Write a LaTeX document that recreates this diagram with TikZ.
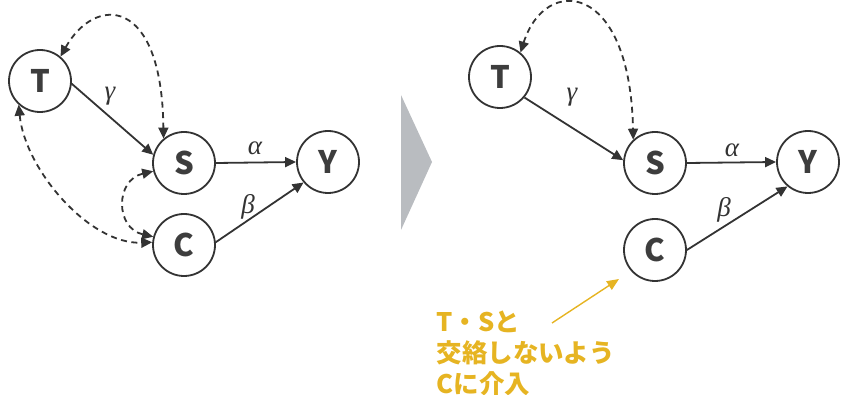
\documentclass[tikz,border=0pt]{standalone}
\usepackage{fontspec}
\newfontfamily\cjk{Noto Sans CJK JP}
\newfontfamily\grk{Liberation Serif}
\usetikzlibrary{arrows.meta}
\definecolor{ink}{HTML}{333333}
\definecolor{gold}{HTML}{E6B422}
\definecolor{tri}{HTML}{B9BCC0}
\tikzset{
  var/.style={circle, draw=ink, line width=1.8pt, minimum size=62pt, inner sep=0pt, font=\cjk\bfseries\fontsize{31}{34}\selectfont, text=ink!95},
  con/.style={draw=ink, line width=1.8pt, -{Triangle[length=11pt,width=10pt]}},
  dcon/.style={draw=ink, line width=1.8pt, dash pattern=on 6pt off 4.5pt, {Triangle[length=11pt,width=10pt]}-{Triangle[length=11pt,width=10pt]}},
  glab/.style={font=\grk\itshape\fontsize{27}{30}\selectfont, text=ink},
  note/.style={font=\cjk\bfseries\fontsize{25.5}{31}\selectfont, text=gold, align=left}
}
\begin{document}
\begin{tikzpicture}[x=1pt,y=-1pt]
\useasboundingbox (0,0) rectangle (841,395);
% left
\node[var] (T1) at (40,81) {T};
\node[var] (S1) at (184,163) {S};
\node[var] (Y1) at (328,162) {Y};
\node[var] (C1) at (184,245) {C};
\draw[con] (T1.-5) -- (S1.165);
\draw[con] (S1.east) -- (Y1.west);
\draw[con] (C1.5) -- (Y1.220);
\node[glab] (g1) at (110,96) {γ};
\node[glab] (a1) at (255,148) {α};
\node[glab] (b1) at (248,207) {β};
\draw[dcon] (T1.50) .. controls (95,-5) and (162,-5) .. (S1.130);
\draw[dcon] (T1.228) .. controls (25,170) and (90,245) .. (C1.175);
\draw[dcon] (S1.195) .. controls (115,180) and (115,228) .. (C1.165);
% triangle
\fill[tri] (401,95) -- (432,162) -- (401,230) -- cycle;
% right
\node[var] (T2) at (500,77) {T};
\node[var] (S2) at (655,163) {S};
\node[var] (Y2) at (808,162) {Y};
\node[var] (C2) at (655,250) {C};
\draw[con] (T2.-40) -- (S2.175);
\draw[con] (S2.east) -- (Y2.west);
\draw[con] (C2.0) -- (Y2.230);
\node[glab] (g2) at (572,97) {γ};
\node[glab] (a2) at (732,150) {α};
\node[glab] (b2) at (724,210) {β};
\draw[dcon] (T2.50) .. controls (545,-25) and (630,-20) .. (S2.133);
% annotation
\node[note, anchor=west] (n) at (433,353) {T・Sと\\交絡しないよう\\Cに介入};
\coordinate (ns) at (552,323);
\draw[draw=gold, line width=1.4pt, -{Triangle[length=12pt,width=10pt]}] (ns) -- (619,279);
\end{tikzpicture}
\end{document}
